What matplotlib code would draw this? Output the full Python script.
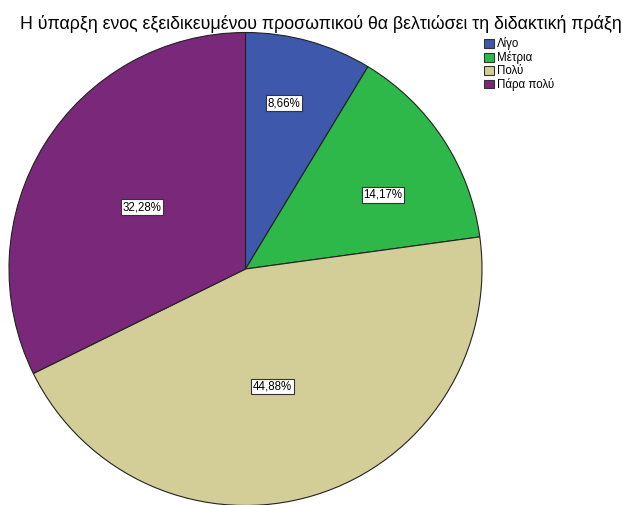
import numpy as np
import matplotlib.pyplot as plt
from matplotlib.patches import Patch

plt.rcParams['font.family'] = ['Liberation Sans', 'DejaVu Sans']

labels = ["Λίγο", "Μέτρια", "Πολύ", "Πάρα πολύ"]
pcts = [8.66, 14.17, 44.88, 32.28]
colors = ["#3E58AC", "#2EB84A", "#D3CE97", "#79287A"]
title = "Η ύπαρξη ενος εξειδικευμένου προσωπικού θα βελτιώσει τη διδακτική πράξη"

W, H = 627, 505
fig = plt.figure(figsize=(W / 100, H / 100), dpi=100)

# pie centre (245.5, 269) px, radius 236.5 px
cx, cy, r = 245.5, 269.0, 236.5
ax = fig.add_axes([(cx - r) / W, (H - cy - r) / H, 2 * r / W, 2 * r / H])
wedges, _ = ax.pie(pcts, colors=colors, startangle=90, counterclock=False,
                   wedgeprops=dict(edgecolor="#222222", linewidth=0.8))
ax.set_xlim(-1, 1)
ax.set_ylim(-1, 1)
ax.set_aspect("equal")
ax.axis("off")

# label distance along each wedge's bisector
dist = [0.72, 0.66, 0.51, 0.51]
shift = [2.5, -5, -4, 1]
for w, p, d, s in zip(wedges, pcts, dist, shift):
    ang = np.deg2rad((w.theta1 + w.theta2) / 2 + s)
    ax.text(d * np.cos(ang), d * np.sin(ang), f"{p:.2f}%".replace(".", ","),
            ha="center", va="center", fontsize=8.3,
            bbox=dict(boxstyle="square,pad=0.15", fc="white", ec="#333333", lw=0.8))

fig.text(321 / W, 1 - 24 / H, title, ha="center", va="center", fontsize=12.8)

handles = [Patch(facecolor=c, edgecolor="#333333", lw=0.8) for c in colors]
fig.legend(handles, labels, loc="upper left", bbox_to_anchor=(482 / W, 1 - 35 / H),
           frameon=False, fontsize=8.3, handlelength=0.8, handleheight=0.8,
           handletextpad=0.3, labelspacing=0.08, borderaxespad=0, borderpad=0.2)

fig.savefig("out.png", dpi=100)
